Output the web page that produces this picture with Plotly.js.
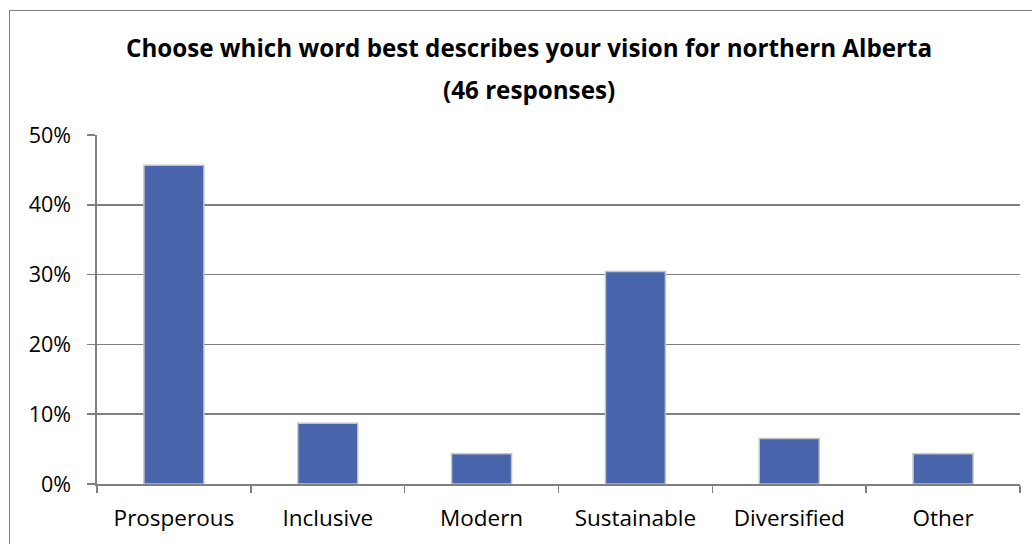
<!DOCTYPE html>
<html><head><meta charset="utf-8">
<script src="https://cdn.plot.ly/plotly-3.0.1.min.js"></script>
<style>
html,body{margin:0;padding:0;background:#fff;overflow:hidden;}
#frame{position:absolute;left:9px;top:10px;width:1040px;height:560px;border:1.5px solid #808080;box-sizing:border-box;pointer-events:none;z-index:5;}
#chart{position:absolute;left:0;top:0;width:1032px;height:544px;}
</style></head>
<body>
<div id="chart"></div>
<div id="frame"></div>
<script>
var categories = ["Prosperous", "Inclusive", "Modern", "Sustainable", "Diversified", "Other"];
var percentValues = [45.65, 8.70, 4.35, 30.43, 6.52, 4.35];
var yTickValues = [0, 10, 20, 30, 40, 50];
var yTickLabels = ["0%", "10%", "20%", "30%", "40%", "50%"];
var titleLines = ["Choose which word best describes your vision for northern Alberta", "(46 responses)"];

var font = "'Open Sans', sans-serif";
var trace = {
  type: "bar",
  x: categories,
  y: percentValues,
  marker: {color: "#4865ab", line: {color: "#c4c4c4", width: 1.5}},
  hoverinfo: "skip"
};
var titleFont = {family: font, size: 24.2, color: "#000", weight: "bold"};
var layout = {
  width: 1032, height: 544,
  margin: {l: 97, r: 12, t: 135, b: 60, pad: 0},
  paper_bgcolor: "#fff", plot_bgcolor: "#fff",
  showlegend: false,
  bargap: 0.61,
  annotations: [
    {text: titleLines[0], xref: "paper", yref: "paper", x: 0.468, y: (484 - 47.5) / 349,
     xanchor: "center", yanchor: "middle", showarrow: false, font: titleFont},
    {text: titleLines[1], xref: "paper", yref: "paper", x: 0.468, y: (484 - 89) / 349,
     xanchor: "center", yanchor: "middle", showarrow: false, font: titleFont}
  ],
  xaxis: {
    type: "category", showgrid: false, zeroline: false,
    showline: true, linecolor: "#7f7f7f", linewidth: 1.6,
    ticks: "outside", tickson: "boundaries", ticklen: 7, tickcolor: "#7f7f7f", tickwidth: 1.6,
    tickfont: {family: font, size: 22.5, color: "#000"}, ticklabelstandoff: 13
  },
  yaxis: {
    range: [0, 50], tickvals: yTickValues, ticktext: yTickLabels,
    showgrid: true, gridcolor: "#7f7f7f", gridwidth: 1.6, zeroline: false,
    showline: true, linecolor: "#7f7f7f", linewidth: 1.6,
    ticks: "outside", ticklen: 8, tickcolor: "#7f7f7f", tickwidth: 1.6,
    tickfont: {family: font, size: 21.5, color: "#000"}, ticklabelstandoff: 12
  }
};
Plotly.newPlot("chart", [trace], layout, {staticPlot: true, displayModeBar: false});
</script>
</body></html>
